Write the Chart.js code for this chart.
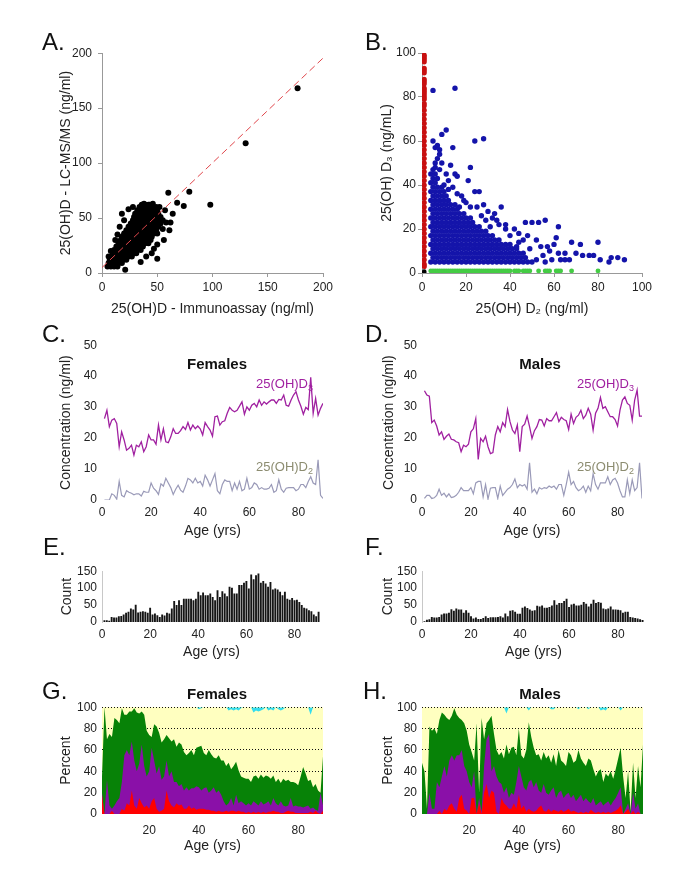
<!DOCTYPE html>
<html>
<head>
<meta charset="utf-8">
<script src="https://cdn.jsdelivr.net/npm/chart.js@4.4.1/dist/chart.umd.min.js"></script>
<style>
  body { margin: 0; background: #fff; }
  #page { position: relative; width: 685px; height: 889px; overflow: hidden; font-family: "Liberation Sans", Arial, sans-serif; color: #111; }
  #page canvas { position: absolute; }
  .tag { position: absolute; font-size: 24px; line-height: 24px; z-index: 2; }
  .head { position: absolute; font-weight: bold; font-size: 15px; line-height: 15px; transform: translateX(-50%); z-index: 2; }
  .ser { position: absolute; font-size: 13px; line-height: 13px; z-index: 2; white-space: nowrap; }
  .ser sub { font-size: 9px; vertical-align: -3px; line-height: 0; }
</style>
</head>
<body>
<div id="page">
  <div class="tag" style="left:42px;top:30px">A.</div>
  <div class="tag" style="left:365px;top:30px">B.</div>
  <div class="tag" style="left:42px;top:322px">C.</div>
  <div class="tag" style="left:365px;top:322px">D.</div>
  <div class="tag" style="left:43px;top:535px">E.</div>
  <div class="tag" style="left:365px;top:535px">F.</div>
  <div class="tag" style="left:42px;top:679px">G.</div>
  <div class="tag" style="left:363px;top:679px">H.</div>
  <div class="head" style="left:217px;top:356px">Females</div>
  <div class="head" style="left:540px;top:356px">Males</div>
  <div class="head" style="left:217px;top:686px">Females</div>
  <div class="head" style="left:540px;top:686px">Males</div>
  <div class="ser" style="left:256px;top:377px;color:#A020A0">25(OH)D<sub>3</sub></div>
  <div class="ser" style="left:256px;top:460px;color:#8C8C70">25(OH)D<sub>2</sub></div>
  <div class="ser" style="left:577px;top:377px;color:#A020A0">25(OH)D<sub>3</sub></div>
  <div class="ser" style="left:577px;top:460px;color:#8C8C70">25(OH)D<sub>2</sub></div>
</div>
<script>
// ---- A: immunoassay vs LC-MS/MS ----
const aTicks = [0, 50, 100, 150, 200];
const aFitX = [0, 200];
const aFitY = [5, 195.5];
const aRowY = [6, 9, 12, 15, 18, 21, 24, 27, 30, 33, 36, 39, 42, 45, 48, 51, 54, 57, 60, 62];
const aRowX = [
  [5, 8, 11, 14],
  [6, 9, 12, 15, 18],
  [7, 10, 13, 16, 19, 22],
  [9, 12, 15, 18, 21, 24, 27],
  [10, 13, 16, 19, 22, 25, 28, 31],
  [11, 14, 17, 20, 23, 26, 29, 32, 35],
  [13, 16, 19, 22, 25, 28, 31, 34, 37],
  [15, 18, 21, 24, 27, 30, 33, 36, 39, 42],
  [17, 20, 23, 26, 29, 32, 35, 38, 41, 44],
  [18, 21, 24, 27, 30, 33, 36, 39, 42, 45],
  [20, 23, 26, 29, 32, 35, 38, 41, 44, 47, 50],
  [22, 25, 28, 31, 34, 37, 40, 43, 46, 49],
  [24, 27, 30, 33, 36, 39, 42, 45, 48, 51],
  [26, 29, 32, 35, 38, 41, 44, 47, 50, 53],
  [28, 31, 34, 37, 40, 43, 46, 49, 52, 55],
  [29, 32, 35, 38, 41, 44, 47, 50, 53],
  [30, 33, 36, 39, 42, 45, 48, 51],
  [32, 35, 38, 41, 44, 47, 50],
  [34, 37, 40, 43, 46, 49],
  [36, 39, 42, 45]
];
const aOut = [[177,168],[130,118],[98,62],[79,74],[74,61],[68,64],[60,73],[64,54],[61,39],[62,46],
  [57,57],[50,13],[35,10],[21,3],[18,54],[14,35],[12,30],[58,46],[55,40],[47,22],[45,18],[40,15],
  [8,20],[6,15],[52,60],[43,62],[24,58],[28,60],[20,48],[16,42],[56,30],[50,26],[38,63],[46,63]];

// ---- B: D2 vs D3 ----
const bTicks = [0, 20, 40, 60, 80, 100];
const bRedY = [99,98,97,96,93,92,91,88,87,86,84,83,82,81,80,79,77,76,74,72,70,68,66,64,62,60,58,56,
  54,52,50,48,46,44,42,40,38,36,34,32,30,28,26,24,22,20,18,16,14,12,10,8,6,4,3];
const bGreenX = [4,5,6,7,8,9,10,11,12,13,14,15,16,17,18,19,20,21,22,23,24,25,26,27,28,29,30,31,32,
  33,34,35,36,37,38,39,40,42,43,44,46,47,48,49,53,56,57,58,61,62,63,68,80];
const bRowY = [5, 7, 9, 11, 13, 15, 17, 19, 21, 23, 25, 27, 29, 31, 33, 35, 37, 39, 41, 43, 45, 47];
const bRowX = [
  [4,6,8,10,12,14,16,18,20,22,24,26,28,30,32,34,36,38,40,42,44,46,48,50],
  [5,7,9,11,13,15,17,19,21,23,25,27,29,31,33,35,37,39,41,43,45,47],
  [4,6,8,10,12,14,16,18,20,22,24,26,28,30,32,34,36,38,40,42,44,46],
  [5,7,9,11,13,15,17,19,21,23,25,27,29,31,33,35,37,39,41,43],
  [4,6,8,10,12,14,16,18,20,22,24,26,28,30,32,34,36,38,40],
  [5,7,9,11,13,15,17,19,21,23,25,27,29,31,33,35],
  [4,6,8,10,12,14,16,18,20,22,24,26,28,30,32],
  [5,7,9,11,13,15,17,19,21,23,25,27,29],
  [4,6,8,10,12,14,16,18,20,22,24,26],
  [5,7,9,11,13,15,17,19,21,23],
  [4,6,8,10,12,14,16,18,20,22],
  [5,7,9,11,13,15,17,19],
  [4,6,8,10,12,14,16],
  [5,7,9,11,13,15],
  [4,6,8,10,12],
  [5,7,9,11],
  [4,6,8,10],
  [5,7,9],
  [4,6],
  [5,7],
  [4,6],
  [5]
];
const bOut = [[5,83],[15,84],[9,63],[11,65],[24,60],[28,61],[14,57],[5,60],[6,57],[7,58],[8,56],[8,54],
  [7,52],[6,50],[9,50],[13,49],[8,47],[11,45],[15,45],[16,44],[6,48],[12,42],[21,42],[22,48],[10,40],
  [12,38],[14,39],[16,36],[18,35],[19,33],[24,37],[26,37],[20,32],[22,30],[25,30],[28,31],[17,30],
  [27,26],[30,28],[32,25],[29,24],[34,24],[36,30],[35,22],[38,20],[40,17],[42,20],[44,18],[46,15],
  [47,23],[50,23],[53,23],[56,24],[62,21],[48,17],[52,15],[54,12],[57,12],[60,13],[61,16],[58,10],
  [62,9],[63,6],[65,6],[67,6],[65,9],[68,14],[70,9],[72,13],[73,8],[76,8],[78,8],[80,14],[81,6],
  [85,5],[86,7],[89,7],[92,6],[55,8],[52,6],[56,5],[59,6],[49,11],[44,14],[38,22],[33,27],[31,21],[43,12]];
const bBlack = [[1, 0.6]];

// ---- C-H: by age ----
const ages = Array.from({ length: 90 }, (_, i) => i + 1);
const ageTicks = [0, 20, 40, 60, 80];
const ageTicksGH = [20, 40, 60, 80];
const concTicks = [0, 10, 20, 30, 40, 50];
const countTicks = [0, 50, 100, 150];
const pctTicks = [0, 20, 40, 60, 80, 100];

const fD3 = [26.3,29,23.7,25.8,26.3,24.7,17.2,22,19.4,16.1, 16.7,17.7,14.5,17.7,17.2,18.8,15.6,17.2,21,19.4,
  19.4,18,24.2,19.4,23,18.8,18.5,20.4,23,21.5, 21.5,22.4,23.7,22.8,25,22.6,24.2,23,23.9,23,
  21,25,23.7,22.6,20.6,26.9,27.1,24.2,25.3,25.6, 28,29.9,29,28.5,29,30.3,31.7,27.7,30.1,29,
  30.6,31.2,30.1,32.3,30.6,31.7,31,31.7,32.3,32.3, 31.2,32.5,32.3,33.9,30.6,30.3,32.3,33.9,35,32.3,
  30.3,27.7,29.9,29.2,39.6,28,32.8,27.4,29.6,31.2];
const fD2 = [0,0,0,2,1.5,0.3,6,1.5,1,3, 2.5,2.2,1.7,2,2,1.3,2.8,2.5,2.5,5.5, 3.8,3,1.8,5.2,4.5,7,5.5,4,1.8,3.5,
  4.8,3.2,2.5,4.5,7,6.5,5.5,7,5.5,6, 4.5,8,6.5,4.5,6.5,8.5,3,2,5,6.5, 6,6,3,5.5,3.5,6,3,3.5,7,3.5,
  4,5.5,5,3.5,4,3.5,3.5,3.8,5,2.5, 3,6.5,3.5,2.5,3.8,4,4,4,3,3.5, 5,5,4,6,7.5,5.5,5,13,1.5,0.5];
const mD3 = [35.3,33.9,33.5,25,25.8,23.9,21,22,19.6,20.6, 21.3,19.6,19.4,18.8,18.5,15.6,17.7,17.2,18,22,
  23,26.3,13.1,19.9,18.8,20.6,17.2,15,15.3,21, 23.7,22,25,23.7,29.2,25.3,22.6,21.5,24.2,15.6,
  23.7,24.5,27.1,23.7,19.9,22.4,23.7,26,25.8,23.9, 26.3,25.6,25.6,26.9,28.2,25.3,26.7,26,25.6,22.8,
  27.7,24.7,26.7,27.4,29,26.3,27.4,29.6,27.7,22.6, 28,29.6,33.1,29.6,30.1,28.5,26.9,26.9,26,23.9,
  29,32.3,33.3,31.2,30.6,25.8,32.3,35.5,27.1,27.1];
const mD2 = [0.5,1.5,1.5,0.5,0.7,1.5,3.5,1.5,2.2,1, 2,0.8,1,1.5,2.5,4,3,3,3,4, 2,5.5,6,6,1,5,0.3,3.8,4,4,
  0.5,4.5,1.5,2.5,3.5,4,5,6.8,4,5, 4.5,5,3.5,12,2.5,3.5,2,4,3.5,4, 3.8,4.5,4,4.5,3.5,5,5,1.5,5,9,
  5,6,4,3,3.5,4.5,2.5,4.5,3,8.5, 5,3.5,5.5,5.5,5.5,7.5,5,6.5,7,5.5, 3,1,1,6.5,2,6.5,3,4,12,0.5];

const fCount = [5,5,4,15,13,13,17,18,22,27, 30,40,37,51,28,30,32,30,27,42, 22,25,20,15,22,19,27,25,40,62,
  50,64,50,69,69,69,69,64,69,89, 79,87,79,79,84,74,64,94,74,91, 84,76,104,101,84,84,109,109,116,121,
  99,140,126,138,143,116,121,114,104,118, 96,99,96,89,79,89,69,66,71,64, 66,59,50,42,40,35,32,22,17,30];
const mCount = [2,7,8,15,13,13,15,22,25,25, 27,38,33,40,37,37,27,35,27,17, 10,13,9,9,12,17,12,14,14,14,
  15,17,13,25,17,33,35,30,24,24, 42,46,41,37,33,35,48,46,49,42, 42,44,49,64,51,56,56,62,69,44,
  52,54,49,49,51,59,54,46,54,66, 56,59,57,40,38,40,46,37,37,36, 35,27,30,30,15,13,12,10,8,6];

// stacked percent boundaries (cumulative): red top, purple top, green top, cyan bottom
const fRed = [18,0,0,0,3,0,0,0,5,3, 10,8,22,8,5,15,10,6,8,5, 12,15,5,2,3,5,22,12,8,6, 10,8,9,5,5,8,5,6,4,5,
  5,5,4,4,3,3,2,3,2,2, 3,2,3,3,2,3,2,2,1,2, 1,2,1,2,1,2,1,2,2,3, 2,2,1,1,2,3,2,2,1,1, 1,1,1,1,2,1,3,1,0,3];
const fPurple = [20,0,32,8,5,8,12,15,30,55, 60,55,68,50,40,47,65,45,35,40, 62,50,38,45,32,35,50,35,40,30,
  30,26,28,22,25,22,24,24,26,25, 22,24,25,20,22,25,20,22,18,12, 8,10,15,8,18,10,12,10,8,10,
  8,12,10,8,12,9,10,12,8,15, 10,8,12,8,7,8,15,7,8,7, 7,6,7,8,5,6,4,3,20,8];
const fGreen = [35,100,70,75,72,90,88,85,99,93, 93,96,96,99,95,94,96,93,78,74, 72,84,82,76,67,70,74,71,68,70,
  63,67,65,58,55,57,60,55,62,63, 64,57,55,60,56,53,52,55,50,50, 45,48,42,45,49,41,35,34,33,33,
  30,35,36,33,37,34,36,35,33,36, 30,33,29,33,31,32,30,30,29,27, 35,44,38,31,32,25,28,22,20,54];
const fCyan = [100,100,100,100,100,100,100,100,100,100, 100,100,100,100,100,100,100,100,100,100,
  100,100,100,100,100,100,100,100,100,100, 100,100,100,100,100,100,100,100,100,98,
  99,100,100,100,100,100,100,100,100,100, 100,97,98,97,98,97,99,100,100,100,
  100,95,97,96,97,98,100,97,98,97, 100,98,97,98,100,100,100,100,100,100,
  100,100,100,100,93,100,100,100,100,100];
const mRed = [0,0,0,0,0,0,0,3,0,5, 3,8,10,5,2,15,18,5,3,0, 15,15,0,10,0,20,28,15,22,20, 2,0,15,10,8,5,5,10,5,18,
  5,8,2,5,3,2,3,6,8,3, 2,5,2,4,3,2,4,2,3,5, 2,3,2,1,2,1,2,1,4,2, 1,2,1,2,1,2,1,2,3,5, 8,0,2,5,0,3,0,2,0,0];
const mPurple = [0,0,0,20,5,5,30,25,35,45, 35,50,55,50,55,55,60,45,40,30, 25,40,0,15,2,45,70,75,40,45,
  35,30,28,20,25,15,20,18,30,45, 35,25,22,30,32,25,30,22,20,28, 20,18,22,25,15,20,22,15,18,20,
  15,18,12,15,18,12,15,12,10,15, 8,10,12,8,10,12,8,12,15,20, 25,0,5,10,0,20,5,10,0,0];
const mGreen = [48,40,5,82,78,80,75,88,95,93, 90,88,92,99,93,90,88,85,78,65, 58,50,85,20,90,70,85,88,92,75,
  60,55,58,52,65,56,62,63,55,80, 55,52,60,86,72,62,55,56,50,58, 52,55,48,56,45,60,50,48,45,58,
  55,48,50,60,52,48,45,52,50,42, 35,40,42,30,38,35,40,33,42,52, 62,35,15,40,2,48,15,45,25,65];
const mCyan = [100,100,100,100,100,100,100,100,100,100, 100,100,100,100,100,100,100,100,100,100,
  100,100,100,100,100,100,100,100,100,100, 100,100,100,100,94,100,100,100,100,100,
  100,100,100,97,100,100,100,100,100,100, 100,100,98,98,100,100,100,100,100,100,
  100,100,100,98,100,100,100,98,100,100, 100,100,97,98,97,100,100,100,100,100,
  97,100,100,100,100,100,100,100,100,100];

// ---- helpers ----
Chart.defaults.font.family = '"Liberation Sans", Arial, sans-serif';
Chart.defaults.font.size = 12;
Chart.defaults.color = '#222';
Chart.defaults.animation = false;
Chart.defaults.events = [];
Chart.defaults.plugins.legend.display = false;
Chart.defaults.plugins.tooltip.enabled = false;

const page = document.getElementById('page');
const xy = (xs, ys) => xs.map((x, i) => ({ x: x, y: ys[i] }));
const pairs = list => list.map(p => ({ x: p[0], y: p[1] }));
const rows = (ry, rx) => rx.flatMap((xs, i) => xs.map(x => ({ x: x, y: ry[i] })));

function axis(min, max, tickVals, title, pad, marks) {
  return {
    type: 'linear', min: min, max: max, offset: false,
    afterBuildTicks: s => { s.ticks = tickVals.map(v => ({ value: v })); },
    ticks: { padding: pad, autoSkip: false, maxRotation: 0 },
    grid: marks ? { display: true, drawOnChartArea: false, drawTicks: true, tickLength: 4, color: '#999', offset: false }
                : { display: false, drawTicks: false, offset: false },
    border: marks ? { display: true, color: '#999' } : { display: false },
    title: { display: true, text: title, font: { size: 14 }, padding: 0 }
  };
}

// plot area L,T,R,B ; y-title centre x ; x-title centre y
function panel(L, T, R, B, yTx, xTy, cfg) {
  const cl = Math.round(yTx - 8.4), ct = T - 12, cr = R + 16, cb = Math.round(xTy + 8.4);
  const cv = document.createElement('canvas');
  cv.width = cr - cl; cv.height = cb - ct;
  cv.style.left = cl + 'px'; cv.style.top = ct + 'px';
  page.appendChild(cv);
  const yW = L - cl, xH = cb - B;
  cfg.options.responsive = false;
  cfg.options.layout = { padding: { top: 12, right: 16, left: 0, bottom: 0 } };
  cfg.options.scales.x.afterFit = s => { s.height = xH; };
  cfg.options.scales.y.afterFit = s => { s.width = yW; };
  return new Chart(cv, cfg);
}

const yellowBg = {
  id: 'yellowBg',
  beforeDraw(chart) {
    const a = chart.chartArea, c = chart.ctx;
    c.save(); c.fillStyle = '#FFFFC0'; c.fillRect(a.left, a.top, a.right - a.left, a.bottom - a.top); c.restore();
  }
};

// ---- A ----
panel(102, 52, 323, 273, 66, 310, {
  type: 'scatter',
  data: { datasets: [
    { type: 'line', data: xy(aFitX, aFitY), borderColor: '#E0474C', borderWidth: 1, borderDash: [7, 4], pointRadius: 0, fill: false },
    { data: rows(aRowY, aRowX).concat(pairs(aOut)), backgroundColor: '#000', borderWidth: 0, pointRadius: 3 }
  ] },
  options: { scales: {
    x: axis(0, 200, aTicks, '25(OH)D - Immunoassay (ng/ml)', 3, true),
    y: axis(0, 200, aTicks, '25(OH)D - LC-MS/MS (ng/ml)', 6, true)
  } }
});

// ---- B ----
panel(422, 53, 642, 273, 387, 310, {
  type: 'scatter',
  data: { datasets: [
    { data: bRedY.map(y => ({ x: 1, y: y })), backgroundColor: '#C81010', borderWidth: 0, pointRadius: 2.6 },
    { data: bGreenX.map(x => ({ x: x, y: 1 })), backgroundColor: '#44CC44', borderWidth: 0, pointRadius: 2.4 },
    { data: pairs(bBlack), backgroundColor: '#000', borderWidth: 0, pointRadius: 2.4 },
    { data: rows(bRowY, bRowX).concat(pairs(bOut)), backgroundColor: '#1414AA', borderWidth: 0, pointRadius: 2.7 }
  ] },
  options: { scales: {
    x: axis(0, 100, bTicks, '25(OH) D\u2082 (ng/ml)', 3, true),
    y: axis(0, 100, bTicks, '25(OH) D\u2083 (ng/mL)', 2, true)
  } }
});

// ---- C / D ----
function concPanel(L, R, yTx, d3, d2) {
  panel(L, 345, R, 500, yTx, 532, {
    type: 'line',
    data: { datasets: [
      { data: xy(ages, d3), borderColor: '#A020A0', borderWidth: 1.3, pointRadius: 0, tension: 0 },
      { data: xy(ages, d2), borderColor: '#9A9AB8', borderWidth: 1.2, pointRadius: 0, tension: 0 }
    ] },
    options: { scales: {
      x: axis(0, 90, ageTicks, 'Age (yrs)', 5, false),
      y: axis(0, 50, concTicks, 'Concentration (ng/ml)', 5, false)
    } }
  });
}
concPanel(102, 323, 66, fD3, fD2);
concPanel(422, 642, 389, mD3, mD2);

// ---- E / F ----
function countPanel(L, R, yTx, counts) {
  const y = axis(0, 150, countTicks, 'Count', 5, false);
  y.border = { display: true, color: '#C8C8C8' };
  panel(L, 571, R, 622, yTx, 653, {
    type: 'bar',
    data: { datasets: [
      { data: xy(ages, counts), backgroundColor: '#151515', borderWidth: 0, barPercentage: 0.78, categoryPercentage: 1 }
    ] },
    options: { scales: { x: axis(0, 91, ageTicks, 'Age (yrs)', 5, false), y: y } }
  });
}
countPanel(102, 321, 67, fCount);
countPanel(422, 645, 388, mCount);

// ---- G / H ----
function pctPanel(L, R, yTx, red, purple, green, cyan) {
  const y = axis(0, 100, pctTicks, 'Percent', 5, false);
  y.z = 1;
  y.grid = { display: true, drawTicks: false, lineWidth: 1, color: c => (c.tick && c.tick.value === 0) ? 'rgba(0,0,0,0)' : '#111' };
  y.border = { display: false, dash: [1, 2] };
  const area = (d, col, fill) => ({ data: xy(ages, d), backgroundColor: col, borderWidth: 0, pointRadius: 0, tension: 0, fill: fill });
  panel(L, 707, R, 814, yTx, 847, {
    type: 'line',
    data: { datasets: [
      area(red, '#FF0000', 'origin'),
      area(purple, '#8A10A8', 'origin'),
      area(green, '#078207', 'origin'),
      area(cyan, '#33DDEE', 'end')
    ] },
    options: { scales: { x: axis(1, 90, ageTicksGH, 'Age (yrs)', 9, false), y: y } },
    plugins: [yellowBg]
  });
}
pctPanel(102, 323, 66, fRed, fPurple, fGreen, fCyan);
pctPanel(422, 643, 388, mRed, mPurple, mGreen, mCyan);
</script>
</body>
</html>
